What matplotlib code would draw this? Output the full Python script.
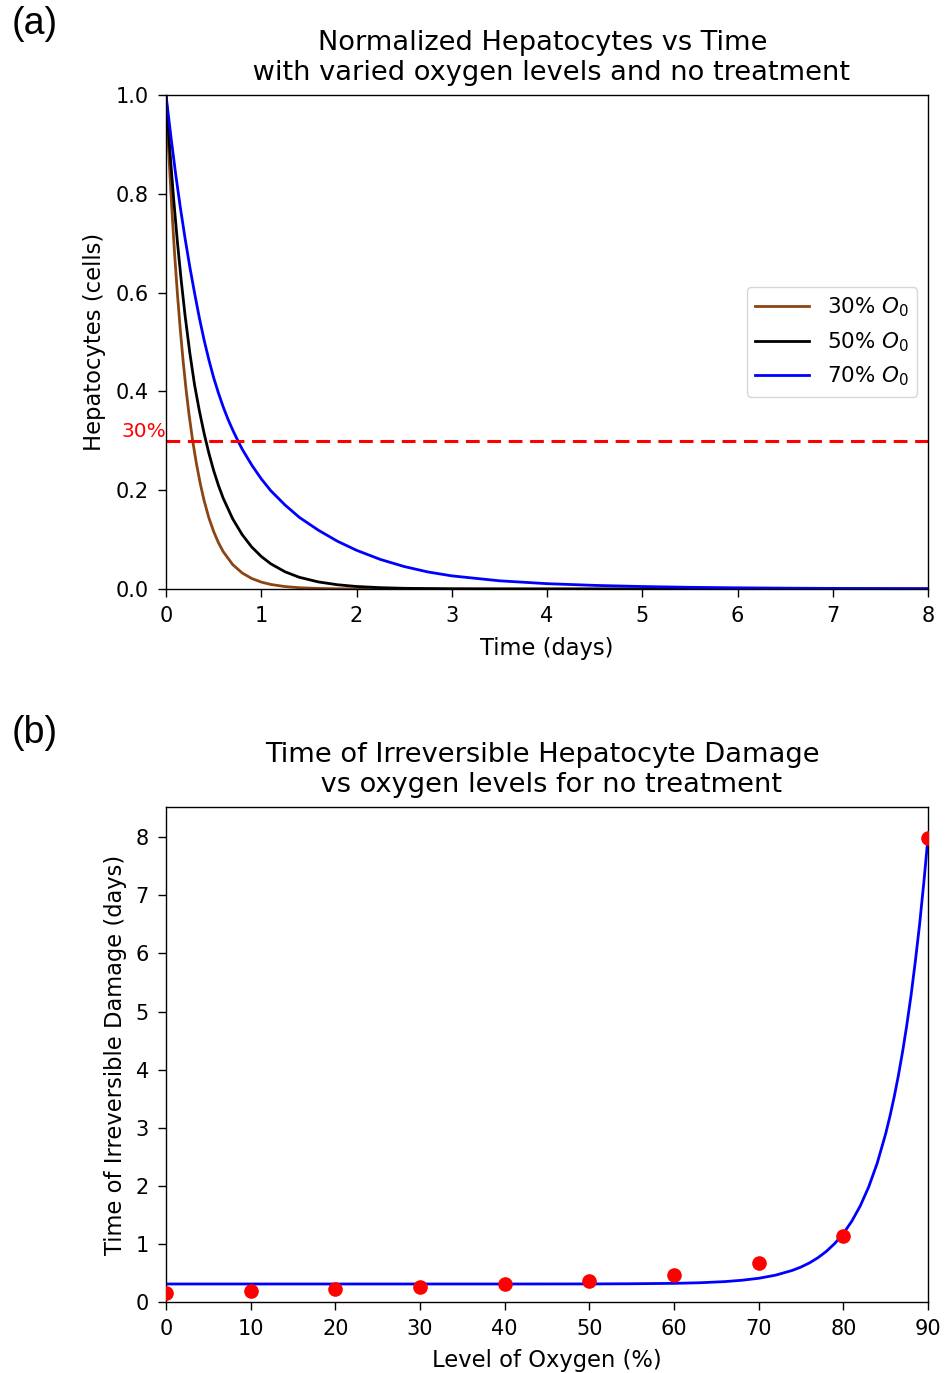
import matplotlib
matplotlib.use("Agg")
import matplotlib.pyplot as plt

# ---------------- Panel (a) data: normalized hepatocytes vs time ----------------
t_30 = [0.0, 0.03, 0.06, 0.09, 0.12, 0.15, 0.18, 0.21, 0.24, 0.28, 0.32, 0.36,
        0.40, 0.45, 0.50, 0.55, 0.60, 0.70, 0.80, 0.90, 1.00, 1.10, 1.25, 1.40,
        1.60, 1.80, 2.0, 2.5, 8.0]
h_30 = [1.0, 0.879, 0.773, 0.679, 0.597, 0.525, 0.461, 0.405, 0.356, 0.300, 0.253,
        0.213, 0.179, 0.144, 0.1165, 0.094, 0.0758, 0.0495, 0.0324, 0.0213, 0.0140,
        0.0092, 0.0049, 0.0026, 0.0011, 0.0005, 0.0002, 0.0, 0.0]

t_50 = [0.0, 0.04, 0.08, 0.12, 0.16, 0.20, 0.25, 0.30, 0.35, 0.40, 0.45, 0.50,
        0.55, 0.60, 0.70, 0.80, 0.90, 1.00, 1.10, 1.25, 1.40, 1.60, 1.80, 2.00,
        2.25, 2.50, 3.0, 3.5, 4.0, 8.0]
h_50 = [1.0, 0.889, 0.790, 0.702, 0.624, 0.554, 0.478, 0.413, 0.361, 0.315, 0.275,
        0.240, 0.210, 0.184, 0.142, 0.110, 0.085, 0.0659, 0.051, 0.0348, 0.0237,
        0.0143, 0.0086, 0.0051, 0.0027, 0.0014, 0.0004, 0.0001, 0.0, 0.0]

t_70 = [0.0, 0.05, 0.10, 0.15, 0.20, 0.25, 0.30, 0.35, 0.40, 0.45, 0.50, 0.55,
        0.60, 0.65, 0.70, 0.75, 0.80, 0.90, 1.00, 1.10, 1.25, 1.40, 1.60, 1.80,
        2.00, 2.25, 2.50, 2.75, 3.00, 3.50, 4.00, 4.50, 5.00, 5.50, 6.00, 6.50,
        7.00, 7.50, 8.00]
h_70 = [1.0, 0.918, 0.842, 0.773, 0.710, 0.652, 0.599, 0.549, 0.504, 0.464, 0.428,
        0.397, 0.369, 0.344, 0.322, 0.302, 0.283, 0.251, 0.223, 0.199, 0.170, 0.145,
        0.119, 0.0967, 0.0784, 0.0599, 0.0455, 0.0345, 0.0266, 0.0166, 0.0108,
        0.0073, 0.0050, 0.0034, 0.0024, 0.0017, 0.0012, 0.0008, 0.0006]

threshold = 0.3
legend_labels = [r"30% $O_0$", r"50% $O_0$", r"70% $O_0$"]

# ---------------- Panel (b) data: time of irreversible damage ----------------
oxygen_pts = [0, 10, 20, 30, 40, 50, 60, 70, 80, 90]
damage_pts = [0.16, 0.19, 0.23, 0.26, 0.31, 0.37, 0.47, 0.67, 1.14, 7.98]

fit_x = [0, 10, 20, 30, 40, 50, 55, 60, 63, 66, 68, 70, 72, 74, 75, 76, 77, 78,
         79, 80, 81, 82, 83, 84, 85, 85.5, 86, 86.5, 87, 87.5, 88, 88.5, 89,
         89.5, 90]
fit_y = [0.31, 0.31, 0.31, 0.31, 0.31, 0.311, 0.314, 0.321, 0.331, 0.351, 0.374,
         0.408, 0.462, 0.545, 0.602, 0.673, 0.762, 0.872, 1.009, 1.179, 1.391,
         1.654, 1.982, 2.389, 2.896, 3.194, 3.526, 3.896, 4.31, 4.77, 5.28, 5.86,
         6.49, 7.21, 8.00]

# ---------------- Figure ----------------
W, H = 947, 1373
fig = plt.figure(figsize=(W / 100, H / 100), dpi=100)

left = 166 / W
width = 762 / W
ax1 = fig.add_axes([left, 1 - 589 / H, width, 494 / H])
ax2 = fig.add_axes([left, 1 - 1302 / H, width, 495 / H])

TICK = 15
LAB = 16.3
TIT = 19.6

for ax in (ax1, ax2):
    ax.tick_params(labelsize=TICK, length=5.8, pad=6.5, width=1.0)
    for sp in ax.spines.values():
        sp.set_linewidth(1.0)

# Panel (a)
ax1.plot(t_30, h_30, color="#8B4513", lw=2, label=legend_labels[0])
ax1.plot(t_50, h_50, color="black", lw=2, label=legend_labels[1])
ax1.plot(t_70, h_70, color="blue", lw=2, label=legend_labels[2])
ax1.axhline(threshold, color="red", ls="--", lw=2.2, dashes=(4.5, 2.5))
ax1.text(0, threshold, "30%", color="red", ha="right", va="bottom",
         fontsize=14.5, clip_on=False)
ax1.set_xlim(0, 8)
ax1.set_ylim(0, 1)
ax1.set_yticks([0, 0.2, 0.4, 0.6, 0.8, 1.0])
ax1.set_xticks(range(0, 9))
ax1.set_xlabel("Time (days)", fontsize=LAB, labelpad=7.5)
ax1.set_ylabel("Hepatocytes (cells)", fontsize=LAB, labelpad=7)
ax1.set_title("Normalized Hepatocytes vs Time \n with varied oxygen levels and no treatment",
              fontsize=TIT, pad=11)
ax1.legend(loc="center right", fontsize=15.5, handlelength=2.5)

# Panel (b)
ax2.plot(fit_x, fit_y, color="blue", lw=2, zorder=2)
ax2.plot(oxygen_pts, damage_pts, "o", color="red", ms=9.5, zorder=3)
ax2.set_xlim(0, 90)
ax2.set_ylim(0, 8.52)
ax2.set_xticks(range(0, 91, 10))
ax2.set_yticks(range(0, 9))
ax2.set_xlabel("Level of Oxygen (%)", fontsize=LAB, labelpad=7.5)
ax2.set_ylabel("Time of Irreversible Damage (days)", fontsize=LAB, labelpad=6)
ax2.set_title("Time of Irreversible Hepatocyte Damage \n vs oxygen levels for no treatment",
              fontsize=TIT, pad=11)

fig.text(12 / W, 1 - 34 / H, "(a)", fontsize=27, family="Liberation Sans", ha="left", va="baseline")
fig.text(12 / W, 1 - 743 / H, "(b)", fontsize=27, family="Liberation Sans", ha="left", va="baseline")

fig.savefig("out.png", dpi=100)
